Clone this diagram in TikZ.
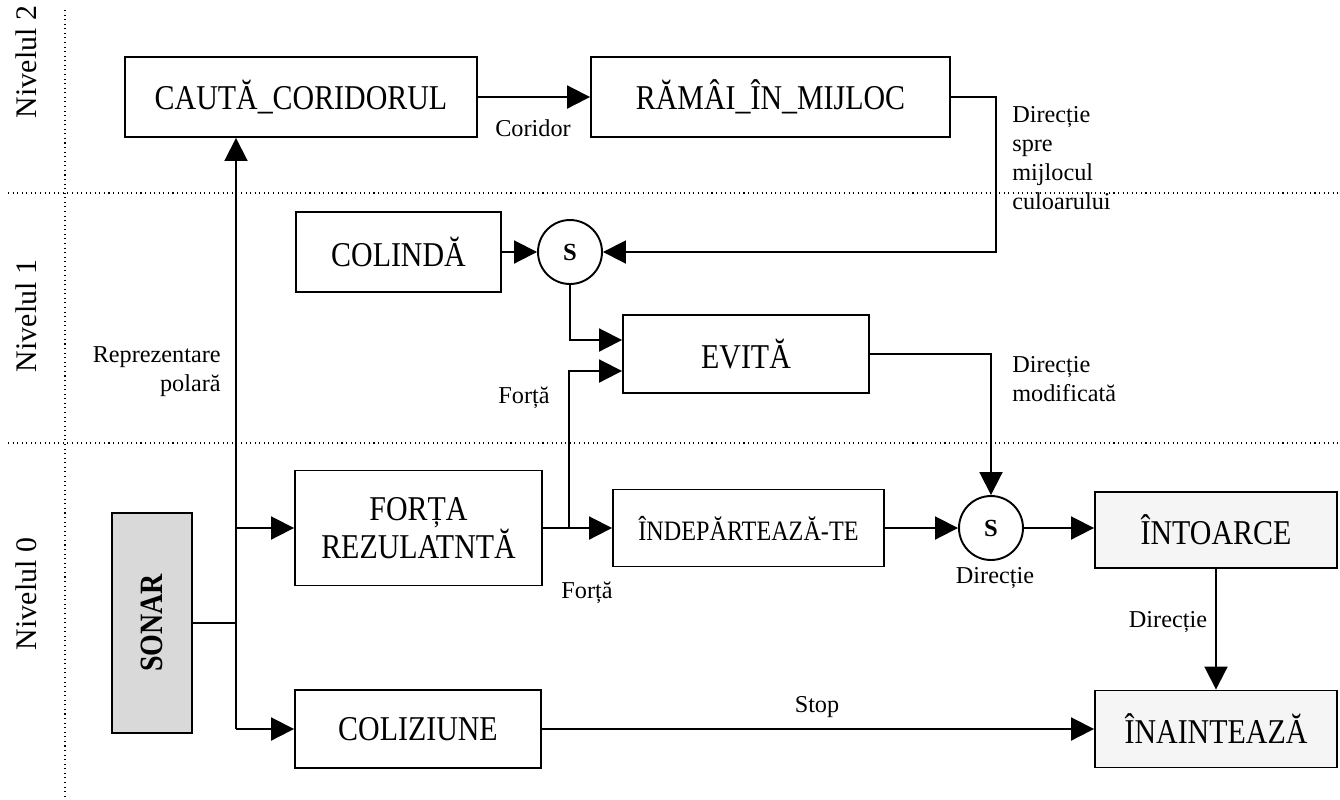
\documentclass[tikz,border=0pt]{standalone}
\usepackage{fontspec}
\setmainfont{Liberation Serif}
\newfontfamily\boxfont[FakeStretch=0.86]{Liberation Serif}
\usetikzlibrary{arrows.meta,calc}
\begin{document}
\begin{tikzpicture}[x=0.02cm,y=-0.02cm,
  box/.style={draw,line width=1.1pt,inner sep=0pt,align=center,font=\boxfont\fontsize{19.8}{20}\selectfont},
  sumnode/.style={draw,circle,line width=1.1pt,minimum size=1.28cm,inner sep=0pt,font=\bfseries\fontsize{14}{16}\selectfont},
  lbl/.style={inner sep=0pt,font=\fontsize{13.8}{16.5}\selectfont},
  lvl/.style={rotate=90,inner sep=0pt,font=\fontsize{17}{18}\selectfont},
  arr/.style={-{Triangle[length=0.46cm,width=0.46cm]},line width=1.1pt},
  wire/.style={line width=1.1pt},
  sep/.style={dotted,line width=0.6pt}]
\useasboundingbox (0,0) rectangle (1340,799);

% level separators
\draw[sep] (65,10) -- (65,799);
\draw[sep] (8,193) -- (1340,193);
\draw[sep] (8,443) -- (1340,443);

% level labels
\node[lvl] (L2) at (26,62) {Nivelul 2};
\node[lvl] (L1) at (26,316) {Nivelul 1};
\node[lvl] (L0) at (26,594) {Nivelul 0};

% boxes
\node[box,minimum width=7.04cm,minimum height=1.6cm] (CAUTA) at (301,97) {CAUTĂ\_CORIDORUL};
\node[box,minimum width=7.18cm,minimum height=1.6cm] (RAMAI) at (770.5,97) {RĂMÂI\_ÎN\_MIJLOC};
\node[box,minimum width=4.1cm,minimum height=1.6cm] (COLINDA) at (398.5,252) {COLINDĂ};
\node[sumnode] (S1) at (570,252) {S};
\node[box,minimum width=4.92cm,minimum height=1.56cm] (EVITA) at (746,354) {EVITĂ};
\node[box,minimum width=4.94cm,minimum height=2.3cm,font=\boxfont\fontsize{19.8}{20.5}\selectfont] (FORTA) at (418.5,528) {FORȚA\\REZULATNTĂ};
\node[box,minimum width=5.42cm,minimum height=1.54cm,font=\boxfont\fontsize{16}{18}\selectfont] (INDEP) at (748.5,528) {ÎNDEPĂRTEAZĂ-TE};
\node[sumnode] (S2) at (991,528) {S};
\node[box,fill=black!4,minimum width=4.84cm,minimum height=1.52cm] (INTOARCE) at (1216,530) {ÎNTOARCE};
\node[box,fill=black!4,minimum width=4.84cm,minimum height=1.54cm] (INAINTEAZA) at (1216,729) {ÎNAINTEAZĂ};
\node[box,minimum width=4.92cm,minimum height=1.56cm] (COLIZ) at (418,729) {COLIZIUNE};
\node[box,fill=black!15,minimum width=1.6cm,minimum height=4.4cm] (SONAR) at (152,623) {};
\node[rotate=90,inner sep=0pt,font=\boxfont\bfseries\fontsize{18.5}{19}\selectfont] (SONARt) at (SONAR.center) {SONAR};

% junction coordinates
\coordinate (j) at (236,623);
\coordinate (c1) at (996,252);
\coordinate (k) at (569,528);

% connectors
\draw[wire] (SONAR.east) -- (j);
\draw[arr] (j |- COLIZ.west) -- (j |- CAUTA.south);
\draw[arr] (j |- FORTA.west) -- (FORTA.west);
\draw[arr] (j |- COLIZ.west) -- (COLIZ.west);
\draw[arr] (CAUTA.east) -- (RAMAI.west);
\draw[arr] (RAMAI.east) -| (c1) -- (S1.east);
\draw[arr] (COLINDA.east) -- (S1.west);
\draw[arr] (S1.south) |- ($(EVITA.west)+(0,-14)$);
\draw[arr] (k) |- ($(EVITA.west)+(0,17)$);
\draw[arr] (FORTA.east) -- (INDEP.west);
\draw[arr] (INDEP.east) -- (S2.west);
\draw[arr] (S2.east) -- (S2.east -| INTOARCE.west);
\draw[arr] (EVITA.east) -| (S2.north);
\draw[arr] (INTOARCE.south) -- (INAINTEAZA.north);
\draw[arr] (COLIZ.east) -- (COLIZ.east -| INAINTEAZA.west);

% connector labels
\node[lbl] (lcor) at (533,128) {Coridor};
\node[lbl,anchor=north west,align=left] (ldir1) at (1012,106) {Direcție\\spre\\mijlocul\\culoarului};
\node[lbl,anchor=north west,align=left] (ldir2) at (1012,356) {Direcție\\modificată};
\node[lbl,anchor=north east,align=right] (lrep) at (221,346) {Reprezentare\\polară};
\node[lbl] (lf1) at (524,398) {Forță};
\node[lbl] (lf2) at (587,593) {Forță};
\node[lbl] (ldir3) at (995,578) {Direcție};
\node[lbl] (ldir4) at (1168,622) {Direcție};
\node[lbl] (lstop) at (817,707) {Stop};
\end{tikzpicture}
\end{document}
